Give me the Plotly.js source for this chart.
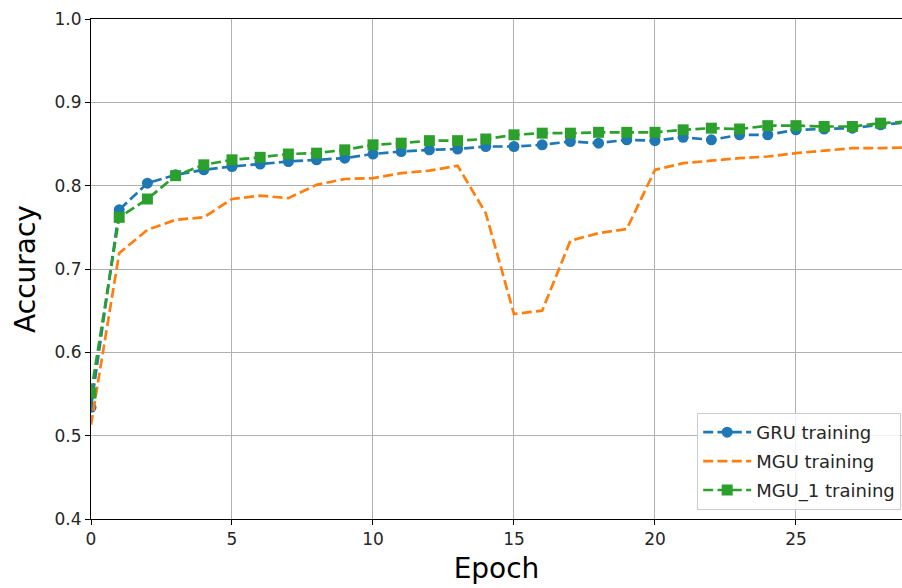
<!DOCTYPE html>
<html>
<head>
<meta charset="utf-8">
<script src="https://cdn.plot.ly/plotly-3.0.1.min.js"></script>
<style>html,body{margin:0;padding:0;background:#fff;}#chart{width:902px;height:588px;}</style>
</head>
<body>
<div id="chart"></div>
<script>
const epochs = [0,1,2,3,4,5,6,7,8,9,10,11,12,13,14,15,16,17,18,19,20,21,22,23,24,25,26,27,28,29];
const gruTraining = [0.534,0.771,0.803,0.813,0.819,0.823,0.826,0.829,0.831,0.833,0.838,0.841,0.843,0.844,0.847,0.847,0.849,0.853,0.851,0.855,0.854,0.858,0.855,0.861,0.861,0.867,0.868,0.869,0.873,0.876];
const mguTraining = [0.513,0.719,0.747,0.759,0.762,0.784,0.788,0.785,0.801,0.808,0.809,0.815,0.818,0.824,0.767,0.646,0.650,0.734,0.743,0.748,0.819,0.827,0.830,0.833,0.835,0.839,0.842,0.845,0.845,0.846];
const mgu1Training = [0.551,0.762,0.784,0.812,0.825,0.831,0.834,0.838,0.839,0.843,0.849,0.851,0.854,0.854,0.856,0.861,0.863,0.863,0.864,0.864,0.864,0.867,0.869,0.868,0.872,0.872,0.871,0.871,0.875,0.877];
const seriesNames = ["GRU training","MGU training","MGU_1 training"];
const xTicks = [0,5,10,15,20,25];
const yTicks = [0.4,0.5,0.6,0.7,0.8,0.9,1.0];

const dashPat = "10px,4.3px";
const lw = 2.7;
const traces = [
  {x: epochs, y: gruTraining, name: seriesNames[0], legendgroup: "a", mode: "lines+markers",
   line: {color: "#1f77b4", width: lw, dash: dashPat},
   marker: {symbol: "circle", size: 11, color: "#1f77b4"}},
  {x: epochs, y: mguTraining, name: seriesNames[1], legendgroup: "b", mode: "lines",
   line: {color: "#ff7f0e", width: lw, dash: dashPat}},
  {x: epochs, y: mgu1Training, name: seriesNames[2], legendgroup: "c", mode: "lines+markers",
   line: {color: "#2ca02c", width: lw, dash: dashPat},
   marker: {symbol: "square", size: 11, color: "#2ca02c"}}
];

const layout = {
  width: 902, height: 588,
  margin: {l: 91, r: 0, t: 19, b: 69},
  paper_bgcolor: "#fff", plot_bgcolor: "#fff",
  font: {family: "DejaVu Sans", color: "#262626"},
  showlegend: true,
  legend: {x: 0.999, xanchor: "right", y: 0.018, yanchor: "bottom",
    bgcolor: "rgba(255,255,255,0.85)", bordercolor: "#cccccc", borderwidth: 1,
    font: {size: 18, family: "DejaVu Sans", color: "#262626"}, tracegroupgap: 2.5,
    itemwidth: 48},
  xaxis: {range: [0, 28.76], tickvals: xTicks, ticktext: xTicks.map(String),
    showgrid: true, gridcolor: "#b0b0b0", gridwidth: 1,
    zeroline: false, showline: true, linecolor: "#000", linewidth: 1, mirror: true,
    ticks: "outside", ticklen: 5, tickcolor: "#000", tickfont: {size: 17},
    title: {text: "Epoch", font: {size: 28, color: "#000"}, standoff: 9}},
  yaxis: {range: [0.4, 1.0], tickvals: yTicks, ticktext: yTicks.map(v => v.toFixed(1)),
    showgrid: true, gridcolor: "#b0b0b0", gridwidth: 1,
    zeroline: false, showline: true, linecolor: "#000", linewidth: 1, mirror: true,
    ticks: "outside", ticklen: 5, tickcolor: "#000", tickfont: {size: 17},
    title: {text: "Accuracy", font: {size: 28, color: "#000"}, standoff: 10}}
};

Plotly.newPlot("chart", traces, layout, {displayModeBar: false, staticPlot: true});
</script>
</body>
</html>
